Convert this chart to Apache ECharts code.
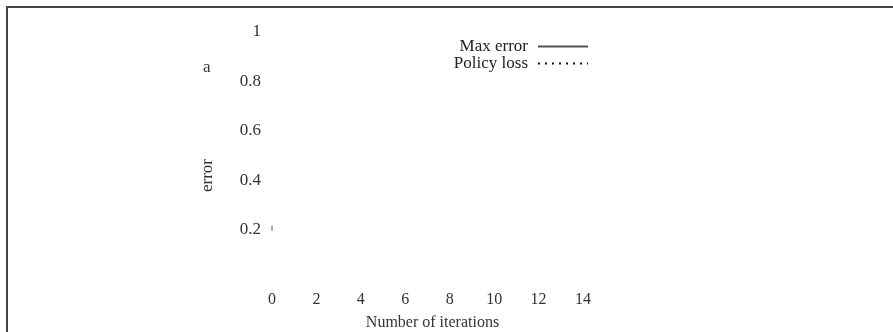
<!DOCTYPE html>
<html><head><meta charset="utf-8">
<script src="https://cdn.jsdelivr.net/npm/echarts@6/dist/echarts.min.js"></script>
<style>html,body{margin:0;padding:0;background:#fff}#c{width:893px;height:332px}</style>
</head><body><div id="c"></div>
<script>
const xTicks = [0, 2, 4, 6, 8, 10, 12, 14];
const yTicks = [0.2, 0.4, 0.6, 0.8, 1];
const seriesNames = ['Max error', 'Policy loss'];
const maxErrorX = [0, 0];
const maxErrorY = [0.215, 0.195];
const policyLossX = [];
const policyLossY = [];

const font = 'Liberation Serif';
const chart = echarts.init(document.getElementById('c'));
chart.setOption({
  animation: false,
  backgroundColor: '#fff',
  grid: { left: 272, right: 310, top: 32, bottom: 53, containLabel: false, outerBoundsMode: 'none' },
  graphic: [
    { type: 'rect', shape: { x: 7, y: 7, width: 1000, height: 1000 }, style: { fill: 'none', stroke: '#444', lineWidth: 2 }, silent: true },
    { type: 'text', left: 203, top: 59, style: { text: 'a', font: '17px "Liberation Serif"', fill: '#333' } }
  ],
  legend: {
    orient: 'vertical', right: 299, top: 33, align: 'right', itemGap: 0,
    itemWidth: 50, itemHeight: 14,
    itemStyle: { opacity: 0 },
    textStyle: { fontFamily: font, fontSize: 17, color: '#222', padding: [0, 5, 0, 0] },
    data: seriesNames
  },
  xAxis: {
    type: 'value', min: 0, max: 14, interval: 2,
    name: 'Number of iterations', nameLocation: 'middle', nameGap: 36,
    nameTextStyle: { fontFamily: font, fontSize: 16, color: '#333', padding: [0, 0, 0, 10] },
    axisLine: { show: false }, axisTick: { show: false }, splitLine: { show: false },
    axisLabel: { margin: 13, fontFamily: font, fontSize: 16, color: '#333',
      formatter: v => xTicks.includes(v) ? String(v) : '' }
  },
  yAxis: {
    type: 'value', min: 0, max: 1, interval: 0.2,
    name: 'error', nameLocation: 'middle', nameRotate: 90, nameGap: 56,
    nameTextStyle: { fontFamily: font, fontSize: 17, color: '#333', padding: [0, 0, 0, -40] },
    axisLine: { show: false }, axisTick: { show: false }, splitLine: { show: false },
    axisLabel: { margin: 11, fontFamily: font, fontSize: 17, color: '#333', showMinLabel: false,
      formatter: v => { const r = Math.round(v * 10) / 10; return yTicks.includes(r) ? String(r) : ''; } }
  },
  series: [
    { name: seriesNames[0], type: 'line', symbol: 'none', color: '#555',
      lineStyle: { width: 1, color: '#555', type: 'solid' },
      data: maxErrorX.map((x, i) => [x, maxErrorY[i]]) },
    { name: seriesNames[1], type: 'line', symbol: 'none', color: '#111',
      lineStyle: { width: 2, color: '#111', type: [2, 5] },
      data: policyLossX.map((x, i) => [x, policyLossY[i]]) }
  ]
});
</script></body></html>
